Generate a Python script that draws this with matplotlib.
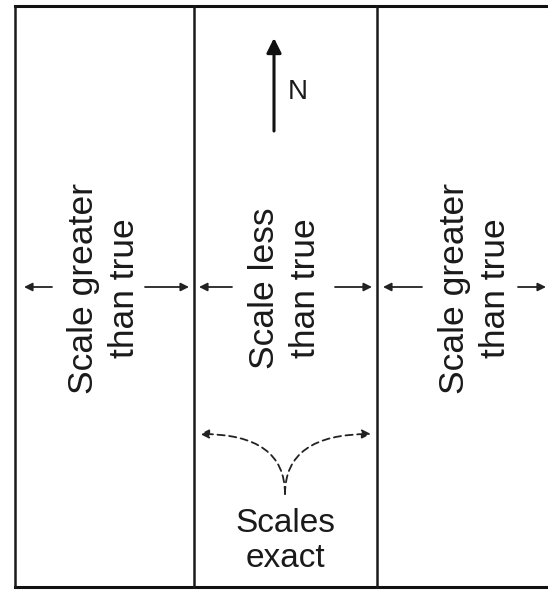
import matplotlib.pyplot as plt
from matplotlib.patches import FancyArrowPatch

# zone borders (x in px) and labels
BORDERS_X = [15, 194, 377]
TOP_Y = 6
BOTTOM_Y = 587
ZONE_LABELS = ['Scale greater\nthan true', 'Scale less\nthan true', 'Scale greater\nthan true']
ZONE_CENTERS = [104, 285, 475]
# horizontal arrows at mid height: (start, end)
ARROWS = [(52, 24), (145, 189), (232, 199), (335, 372), (422, 383), (518, 546)]
ARROW_Y = 287

fig = plt.figure(figsize=(5.48, 5.93), dpi=100)
ax = fig.add_axes([0, 0, 1, 1])
ax.set_xlim(0, 548)
ax.set_ylim(593, 0)
ax.axis('off')

plt.rcParams['font.family'] = ['Liberation Sans', 'DejaVu Sans']

# frame
ax.plot([BORDERS_X[0], 548], [TOP_Y, TOP_Y], color='#111', lw=2.2)
ax.plot([BORDERS_X[0], 548], [BOTTOM_Y, BOTTOM_Y], color='#111', lw=2.2)
for x in BORDERS_X:
    ax.plot([x, x], [TOP_Y, BOTTOM_Y], color='#1a1a1a', lw=1.8)

for cx, lab in zip(ZONE_CENTERS, ZONE_LABELS):
    ax.text(cx, 288, lab, rotation=90, ha='center', va='center',
            fontsize=25.5, linespacing=1.3, color='#1a1a1a')

for x0, x1 in ARROWS:
    ax.annotate('', xy=(x1, ARROW_Y), xytext=(x0, ARROW_Y),
                arrowprops=dict(arrowstyle='-|>', color='#222', lw=1.3,
                                mutation_scale=12, shrinkA=0, shrinkB=0))

# north arrow
ax.annotate('', xy=(274, 38), xytext=(274, 131),
            arrowprops=dict(arrowstyle='-|>', color='#111', lw=2.2,
                            mutation_scale=22, shrinkA=0, shrinkB=0))
ax.text(288, 92, 'N', fontsize=20, ha='left', va='center', color='#1a1a1a')

# dashed curved arrows to the exact-scale lines
for xe in [200, 371]:
    p = FancyArrowPatch((285, 494), (xe, 434),
                        connectionstyle='angle3,angleA=90,angleB=0',
                        arrowstyle='-|>', mutation_scale=13, color='#222',
                        lw=1.3, linestyle=(0, (4, 2.5)), shrinkA=0, shrinkB=0)
    ax.add_patch(p)

ax.text(285, 541, 'Scales\nexact', ha='center', va='center', fontsize=24,
        linespacing=1.2, color='#1a1a1a')

plt.savefig('out.png', dpi=100)
